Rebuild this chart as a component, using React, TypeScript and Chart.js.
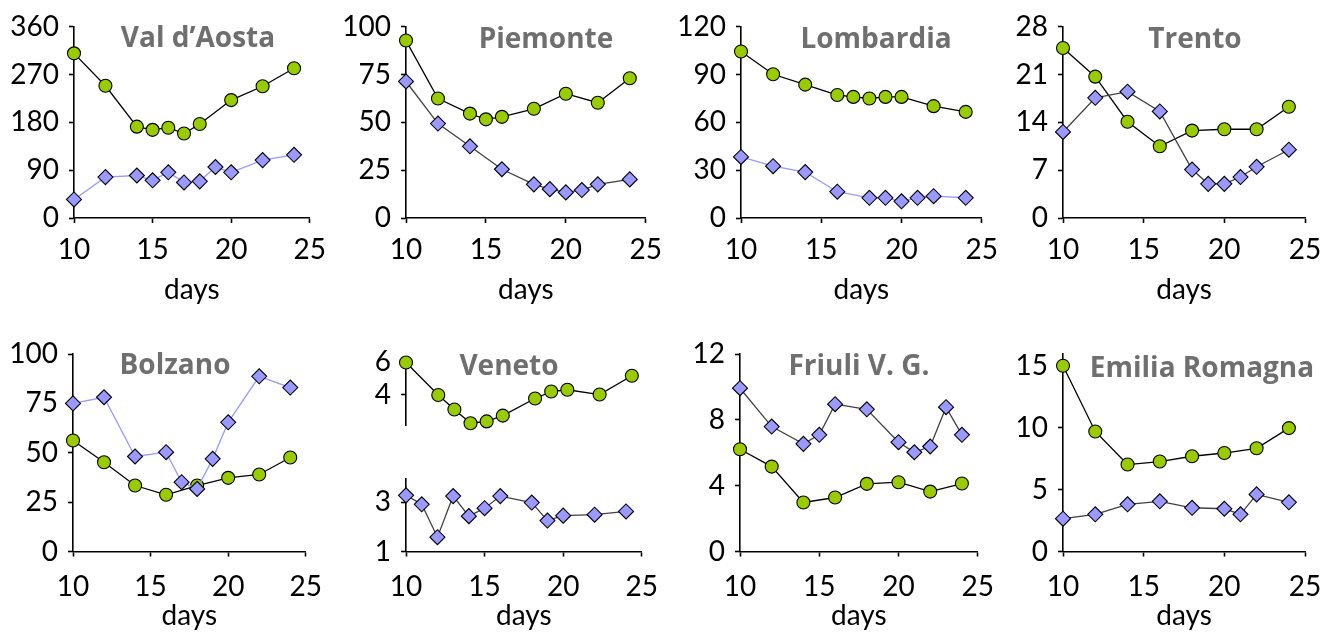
import React, { useEffect, useRef } from 'react';
import { Chart, registerables } from 'chart.js';

Chart.register(...registerables);

// ---------- styling constants ----------
const FONT = "Lato, 'Open Sans', sans-serif";
const TITLE_FONT = "'Open Sans', Lato, sans-serif";
const GREEN_FILL = '#99CC00';
const BLUE_FILL = '#9999FF';
const LIGHT_LINE = '#9999FF';
const DARK_LINE = '#404040';
const TITLE_GREY = '#6F6F6F';

// ---------- data ----------
const xTicks = [10, 15, 20, 25];

// Val d'Aosta
const vdaGreenDays = [10, 12, 14, 15, 16, 17, 18, 20, 22, 24];
const vdaGreen = [310, 249, 172, 166, 170, 159, 177, 222, 248, 282];
const vdaBlueDays = [10, 12, 14, 15, 16, 17, 18, 19, 20, 22, 24];
const vdaBlue = [35, 77, 80, 71, 86, 67, 69, 96, 86, 109, 119];
const vdaTicks = [0, 90, 180, 270, 360];

// Piemonte
const pieGreenDays = [10, 12, 14, 15, 16, 18, 20, 22, 24];
const pieGreen = [92.8, 62.5, 54.6, 51.6, 52.9, 57.1, 65.0, 60.3, 73.1];
const pieBlueDays = [10, 12, 14, 16, 18, 19, 20, 21, 22, 24];
const pieBlue = [71.4, 49.4, 37.5, 25.5, 17.6, 15.1, 13.4, 14.6, 17.6, 20.2];
const pieTicks = [0, 25, 50, 75, 100];

// Lombardia
const lomGreenDays = [10, 12, 14, 16, 17, 18, 19, 20, 22, 24];
const lomGreen = [104.5, 90.2, 83.7, 77.2, 76.0, 75.0, 76.0, 76.0, 70.2, 66.6];
const lomBlueDays = [10, 12, 14, 16, 18, 19, 20, 21, 22, 24];
const lomBlue = [38.3, 32.5, 28.8, 16.5, 12.7, 12.7, 10.5, 12.7, 13.7, 12.7];
const lomTicks = [0, 30, 60, 90, 120];

// Trento
const treGreenDays = [10, 12, 14, 16, 18, 20, 22, 24];
const treGreen = [24.9, 20.7, 14.1, 10.5, 12.8, 13.0, 13.0, 16.3];
const treBlueDays = [10, 12, 14, 16, 18, 19, 20, 21, 22, 24];
const treBlue = [12.6, 17.6, 18.5, 15.6, 7.1, 5.0, 5.0, 6.0, 7.5, 10.0];
const treTicks = [0, 7, 14, 21, 28];

// Bolzano
const bolGreenDays = [10, 12, 14, 16, 18, 20, 22, 24];
const bolGreen = [56.2, 45.2, 33.4, 28.7, 33.4, 37.3, 39.0, 47.6];
const bolBlueDays = [10, 12, 14, 16, 17, 18, 19, 20, 22, 24];
const bolBlue = [75.0, 78.1, 48.1, 50.3, 35.1, 31.7, 46.9, 65.4, 88.7, 83.0];
const bolTicks = [0, 25, 50, 75, 100];

// Veneto (broken axis)
const venGreenDays = [10, 12, 13, 14, 15, 16, 18, 19, 20, 22, 24];
const venGreen = [5.95, 3.98, 3.10, 2.27, 2.38, 2.73, 3.77, 4.19, 4.30, 4.01, 5.15];
const venBlueDays = [10, 11, 12, 13, 14, 15, 16, 18, 19, 20, 22, 24];
const venBlue = [3.27, 2.91, 1.58, 3.24, 2.43, 2.75, 3.24, 2.98, 2.25, 2.45, 2.49, 2.62];
const venTopTicks = [4, 6];
const venBottomTicks = [1, 3];

// Friuli V. G.
const friGreenDays = [10, 12, 14, 16, 18, 20, 22, 24];
const friGreen = [6.21, 5.16, 2.98, 3.28, 4.11, 4.21, 3.64, 4.13];
const friBlueDays = [10, 12, 14, 15, 16, 18, 20, 21, 22, 23, 24];
const friBlue = [9.92, 7.59, 6.54, 7.09, 8.95, 8.64, 6.64, 6.03, 6.38, 8.77, 7.09];
const friTicks = [0, 4, 8, 12];

// Emilia Romagna
const emiGreenDays = [10, 12, 14, 16, 18, 20, 22, 24];
const emiGreen = [15.0, 9.69, 7.02, 7.26, 7.69, 7.95, 8.33, 9.96];
const emiBlueDays = [10, 12, 14, 16, 18, 20, 21, 22, 24];
const emiBlue = [2.65, 3.0, 3.81, 4.05, 3.53, 3.45, 3.0, 4.61, 3.97];
const emiTicks = [0, 5, 10, 15];

// ---------- helpers ----------
type Series = { days: number[]; values: number[]; marker: 'circle' | 'diamond'; line: string };
type Spec = {
  id: string;
  title?: string;
  titlePos?: [number, number];
  canvas: [number, number, number, number]; // L, T, W, H (page coords)
  area: [number, number, number, number]; // left, top, right, bottom (page coords)
  yMin: number;
  yMax: number;
  yTicks: number[];
  showX: boolean;
  xTickPad?: number;
  titleCenterY?: number;
  series: Series[];
};

const green = (days: number[], values: number[]): Series => ({ days, values, marker: 'circle', line: '#000000' });
const blue = (days: number[], values: number[], line: string): Series => ({ days, values, marker: 'diamond', line });

const TOP: [number, number] = [20, 218];
const BOT: [number, number] = [354, 551.5];

const specs: Spec[] = [
  {
    id: 'vda', title: 'Val d\u2019Aosta', titlePos: [198, 39],
    canvas: [0, 0, 336, 322], area: [74, TOP[0], 315, TOP[1]],
    yMin: 0, yMax: 360, yTicks: vdaTicks, showX: true, xTickPad: 10, titleCenterY: 289.5,
    series: [blue(vdaBlueDays, vdaBlue, LIGHT_LINE), green(vdaGreenDays, vdaGreen)],
  },
  {
    id: 'pie', title: 'Piemonte', titlePos: [546, 40],
    canvas: [336, 0, 336, 322], area: [406, TOP[0], 648, TOP[1]],
    yMin: 0, yMax: 100, yTicks: pieTicks, showX: true, xTickPad: 10, titleCenterY: 289.5,
    series: [blue(pieBlueDays, pieBlue, DARK_LINE), green(pieGreenDays, pieGreen)],
  },
  {
    id: 'lom', title: 'Lombardia', titlePos: [876, 40],
    canvas: [672, 0, 336, 322], area: [741, TOP[0], 983, TOP[1]],
    yMin: 0, yMax: 120, yTicks: lomTicks, showX: true, xTickPad: 10, titleCenterY: 289.5,
    series: [blue(lomBlueDays, lomBlue, LIGHT_LINE), green(lomGreenDays, lomGreen)],
  },
  {
    id: 'tre', title: 'Trento', titlePos: [1195, 40],
    canvas: [1008, 0, 336, 322], area: [1063, TOP[0], 1305, TOP[1]],
    yMin: 0, yMax: 28, yTicks: treTicks, showX: true, xTickPad: 10, titleCenterY: 289.5,
    series: [blue(treBlueDays, treBlue, DARK_LINE), green(treGreenDays, treGreen)],
  },
  {
    id: 'bol', title: 'Bolzano', titlePos: [175, 366],
    canvas: [0, 322, 336, 322], area: [73, BOT[0], 315, BOT[1]],
    yMin: 0, yMax: 100, yTicks: bolTicks, showX: true, xTickPad: 14, titleCenterY: 616,
    series: [blue(bolBlueDays, bolBlue, LIGHT_LINE), green(bolGreenDays, bolGreen)],
  },
  {
    id: 'venTop', title: 'Veneto', titlePos: [509, 367],
    canvas: [336, 322, 336, 130], area: [406, 361.7, 648, 441.7],
    yMin: 2.15, yMax: 6, yTicks: venTopTicks, showX: false,
    series: [green(venGreenDays, venGreen)],
  },
  {
    id: 'venBot',
    canvas: [336, 452, 336, 192], area: [406, 476.7, 648, BOT[1]],
    yMin: 1, yMax: 3.94, yTicks: venBottomTicks, showX: true, xTickPad: 14, titleCenterY: 616,
    series: [blue(venBlueDays, venBlue, DARK_LINE)],
  },
  {
    id: 'fri', title: 'Friuli V. G.', titlePos: [859, 367],
    canvas: [672, 322, 336, 322], area: [740, BOT[0], 982, BOT[1]],
    yMin: 0, yMax: 12, yTicks: friTicks, showX: true, xTickPad: 14, titleCenterY: 616,
    series: [blue(friBlueDays, friBlue, DARK_LINE), green(friGreenDays, friGreen)],
  },
  {
    id: 'emi', title: 'Emilia Romagna', titlePos: [1202, 369],
    canvas: [1008, 322, 336, 322], area: [1063, 353.3, 1305, BOT[1]],
    yMin: 0, yMax: 16, yTicks: emiTicks, showX: true, xTickPad: 14, titleCenterY: 616,
    series: [blue(emiBlueDays, emiBlue, DARK_LINE), green(emiGreenDays, emiGreen)],
  },
];

const panelTitlePlugin = {
  id: 'panelTitle',
  beforeDatasetsDraw(chart: any, _args: any, opts: any) {
    if (!opts || !opts.text) return;
    const ctx = chart.ctx;
    ctx.save();
    ctx.font = `bold 28px ${TITLE_FONT}`;
    ctx.fillStyle = TITLE_GREY;
    ctx.textAlign = 'center';
    ctx.textBaseline = 'middle';
    ctx.fillText(opts.text, opts.x, opts.y);
    ctx.restore();
  },
};
Chart.register(panelTitlePlugin);

const FONT_SIZE = 28;
const LINE_H = FONT_SIZE * 1.2;

function buildConfig(spec: Spec): any {
  const [L, T, W, H] = spec.canvas;
  const [aL, aT, aR, aB] = spec.area;
  const yWidth = aL - L;
  const xHeight = T + H - aB;

  const datasets = spec.series.map((s) => ({
    data: s.days.map((d, i) => ({ x: d, y: s.values[i] })),
    borderColor: s.line,
    borderWidth: 1.3,
    pointStyle: s.marker === 'circle' ? 'circle' : 'rectRot',
    pointRadius: s.marker === 'circle' ? 6.5 : 7.5,
    pointBackgroundColor: s.marker === 'circle' ? GREEN_FILL : BLUE_FILL,
    pointBorderColor: '#000000',
    pointBorderWidth: 1.1,
    tension: 0,
    fill: false,
    clip: false,
  }));

  const grid = {
    drawOnChartArea: false,
    drawTicks: true,
    tickLength: 5,
    tickWidth: 1.6,
    tickColor: '#000000',
  };
  const border = { display: true, color: '#000000', width: 1.6 };

  const xScale: any = {
    type: 'linear',
    min: 10,
    max: 25,
    display: spec.showX,
    afterBuildTicks: (s: any) => {
      s.ticks = xTicks.map((v) => ({ value: v }));
    },
    grid,
    border,
    ticks: {
      font: { family: FONT, size: FONT_SIZE },
      color: '#000000',
      padding: spec.xTickPad ?? 10,
      maxRotation: 0,
      autoSkip: false,
      callback: (v: any) => String(v),
    },
    title: {
      display: true,
      text: 'days',
      font: { family: FONT, size: FONT_SIZE },
      color: '#000000',
      padding: { top: 0, bottom: spec.showX ? T + H - LINE_H / 2 - (spec.titleCenterY ?? 0) : 0 },
    },
  };
  if (spec.showX) {
    xScale.afterFit = (s: any) => {
      s.height = xHeight;
    };
  }

  return {
    type: 'line',
    data: { datasets },
    options: {
      responsive: false,
      maintainAspectRatio: false,
      animation: false,
      devicePixelRatio: 1,
      events: [],
      layout: {
        padding: {
          left: 0,
          top: aT - T,
          right: L + W - aR,
          bottom: spec.showX ? 0 : T + H - aB,
        },
      },
      plugins: {
        legend: { display: false },
        tooltip: { enabled: false },
        panelTitle: spec.title
          ? { text: spec.title, x: spec.titlePos![0] - L, y: spec.titlePos![1] - T }
          : { text: '' },
      },
      scales: {
        x: xScale,
        y: {
          type: 'linear',
          min: spec.yMin,
          max: spec.yMax,
          afterBuildTicks: (s: any) => {
            s.ticks = spec.yTicks.map((v) => ({ value: v }));
          },
          afterFit: (s: any) => {
            s.width = yWidth;
          },
          grid,
          border,
          ticks: {
            font: { family: FONT, size: FONT_SIZE },
            color: '#000000',
            padding: 10,
            callback: (v: any) => String(v),
          },
        },
      },
    },
  };
}

function Panel({ spec }: { spec: Spec }) {
  const ref = useRef<HTMLCanvasElement | null>(null);
  useEffect(() => {
    if (!ref.current) return;
    const chart = new Chart(ref.current, buildConfig(spec));
    return () => chart.destroy();
  }, [spec]);
  const [L, T, W, H] = spec.canvas;
  return (
    <canvas
      ref={ref}
      width={W}
      height={H}
      style={{ position: 'absolute', left: L, top: T, width: W, height: H }}
    />
  );
}

export default function App() {
  return (
    <div
      style={{
        position: 'absolute',
        left: 0,
        top: 0,
        width: 1344,
        height: 644,
        background: '#ffffff',
        overflow: 'hidden',
      }}
    >
      {specs.map((s) => (
        <Panel key={s.id} spec={s} />
      ))}
    </div>
  );
}
